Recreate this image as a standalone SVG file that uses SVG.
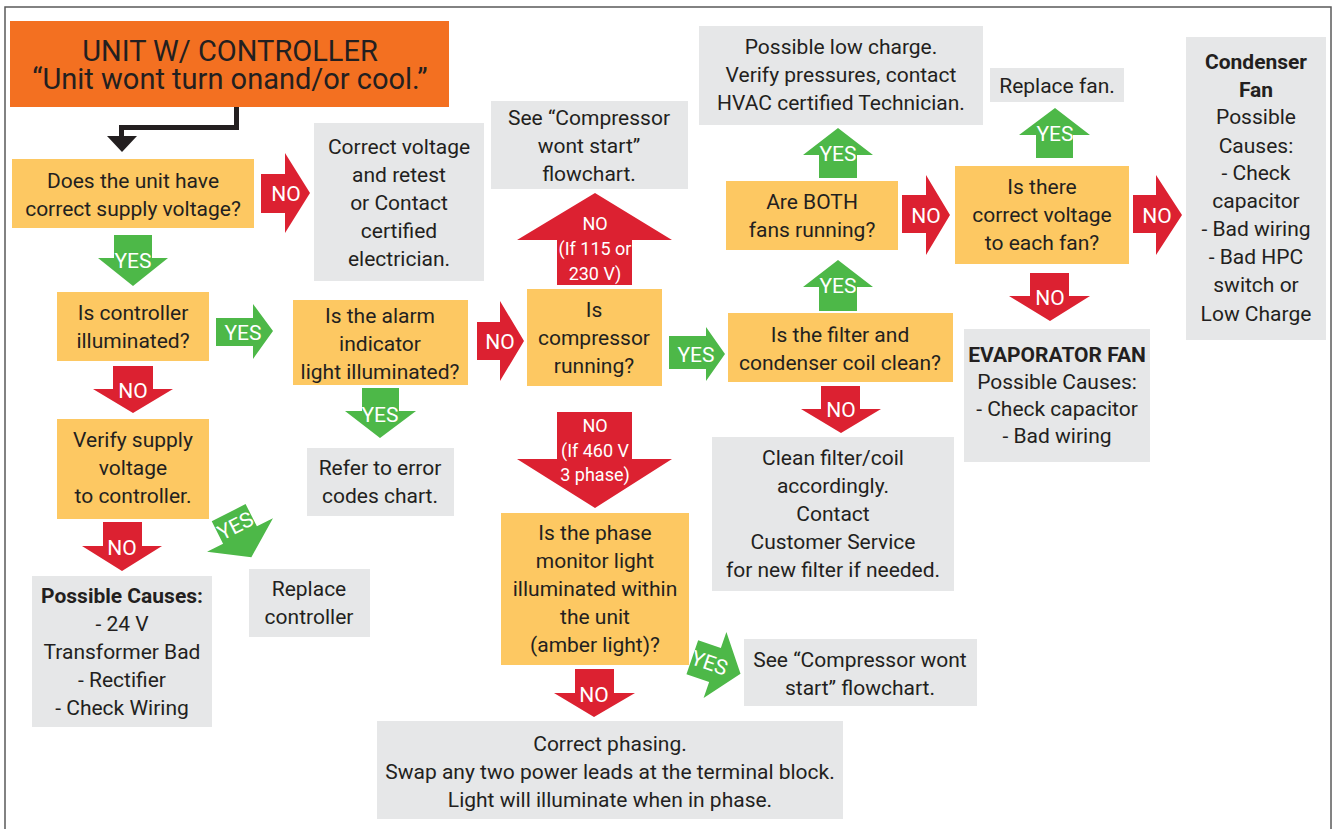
<svg xmlns="http://www.w3.org/2000/svg" width="1332" height="829" viewBox="0 0 1332 829">
<style>
text{font-family:Roboto,"Liberation Sans",sans-serif;text-anchor:middle;}
.t{font-size:21px;fill:#231F20;}
.b{font-weight:bold;}
.title{font-size:29px;fill:#231F20;}
.yb{fill:#FDC862;}
.gb{fill:#E6E7E8;}
.tb{fill:#F37021;}
.r{fill:#DC2131;}
.g{fill:#4DB848;}
.lbl{font-size:21px;fill:#FFFFFF;}
.lbs{font-size:18px;fill:#FFFFFF;}
</style>
<rect x="5" y="7" width="1326" height="840" fill="#FFFFFF" stroke="#5A5A5A" stroke-width="1.5"/>

<g id="title">
<rect class="tb" x="10" y="21" width="439" height="86"/>
<text class="title" x="230" y="61">UNIT W/ CONTROLLER</text>
<text class="title" x="230" y="89">“Unit wont turn onand/or cool.”</text>
</g>

<g id="q-supply">
<rect class="yb" x="12" y="159" width="242" height="69"/>
<text class="t" x="133" y="188">Does the unit have</text>
<text class="t" x="133" y="216">correct supply voltage?</text>
</g>

<g id="correct-voltage">
<rect class="gb" x="314" y="123" width="170" height="158"/>
<text class="t" x="399" y="154">Correct voltage</text>
<text class="t" x="399" y="182">and retest</text>
<text class="t" x="399" y="210">or Contact</text>
<text class="t" x="399" y="238">certified</text>
<text class="t" x="399" y="266">electrician.</text>
</g>

<g id="q-controller">
<rect class="yb" x="57" y="292" width="152" height="69"/>
<text class="t" x="133" y="320">Is controller</text>
<text class="t" x="133" y="348">illuminated?</text>
</g>

<g id="q-alarm">
<rect class="yb" x="293" y="300" width="175" height="85"/>
<text class="t" x="380" y="323">Is the alarm</text>
<text class="t" x="380" y="351">indicator</text>
<text class="t" x="380" y="379">light illuminated?</text>
</g>

<g id="verify-supply">
<rect class="yb" x="57" y="419" width="152" height="100"/>
<text class="t" x="133" y="447">Verify supply</text>
<text class="t" x="133" y="475">voltage</text>
<text class="t" x="133" y="503">to controller.</text>
</g>

<g id="error-codes">
<rect class="gb" x="307" y="448" width="147" height="68"/>
<text class="t" x="380" y="475">Refer to error</text>
<text class="t" x="380" y="503">codes chart.</text>
</g>

<g id="replace-controller">
<rect class="gb" x="249" y="569" width="121" height="68"/>
<text class="t" x="309" y="596">Replace</text>
<text class="t" x="309" y="624">controller</text>
</g>

<g id="possible-causes">
<rect class="gb" x="32" y="576" width="180" height="151"/>
<text class="t b" x="122" y="603">Possible Causes:</text>
<text class="t" x="122" y="631">- 24 V</text>
<text class="t" x="122" y="659">Transformer Bad</text>
<text class="t" x="122" y="687">- Rectifier</text>
<text class="t" x="122" y="715">- Check Wiring</text>
</g>

<g id="see-compressor-1">
<rect class="gb" x="491" y="101" width="197" height="88"/>
<text class="t" x="589" y="125">See “Compressor</text>
<text class="t" x="589" y="153">wont start”</text>
<text class="t" x="589" y="181">flowchart.</text>
</g>

<g id="q-compressor">
<rect class="yb" x="527" y="289" width="135" height="97"/>
<text class="t" x="594" y="317">Is</text>
<text class="t" x="594" y="345">compressor</text>
<text class="t" x="594" y="373">running?</text>
</g>

<g id="q-phase">
<rect class="yb" x="501" y="513" width="188" height="152"/>
<text class="t" x="595" y="540">Is the phase</text>
<text class="t" x="595" y="568">monitor light</text>
<text class="t" x="595" y="596">illuminated within</text>
<text class="t" x="595" y="624">the unit</text>
<text class="t" x="595" y="652">(amber light)?</text>
</g>

<g id="correct-phasing">
<rect class="gb" x="377" y="721" width="466" height="98"/>
<text class="t" x="610" y="751">Correct phasing.</text>
<text class="t" x="610" y="779">Swap any two power leads at the terminal block.</text>
<text class="t" x="610" y="807">Light will illuminate when in phase.</text>
</g>

<g id="see-compressor-2">
<rect class="gb" x="744" y="639" width="233" height="67"/>
<text class="t" x="860" y="667">See “Compressor wont</text>
<text class="t" x="860" y="695">start” flowchart.</text>
</g>

<g id="low-charge">
<rect class="gb" x="699" y="26" width="284" height="99"/>
<text class="t" x="841" y="54">Possible low charge.</text>
<text class="t" x="841" y="82">Verify pressures, contact</text>
<text class="t" x="841" y="110">HVAC certified Technician.</text>
</g>

<g id="q-both-fans">
<rect class="yb" x="726" y="181" width="172" height="69"/>
<text class="t" x="812" y="209">Are BOTH</text>
<text class="t" x="812" y="237">fans running?</text>
</g>

<g id="q-fan-voltage">
<rect class="yb" x="955" y="166" width="174" height="98"/>
<text class="t" x="1042" y="194">Is there</text>
<text class="t" x="1042" y="222">correct voltage</text>
<text class="t" x="1042" y="250">to each fan?</text>
</g>

<g id="replace-fan">
<rect class="gb" x="990" y="68" width="134" height="34"/>
<text class="t" x="1057" y="93">Replace fan.</text>
</g>

<g id="q-filter">
<rect class="yb" x="728" y="313" width="225" height="69"/>
<text class="t" x="840" y="342">Is the filter and</text>
<text class="t" x="840" y="370">condenser coil clean?</text>
</g>

<g id="clean-filter">
<rect class="gb" x="712" y="437" width="242" height="154"/>
<text class="t" x="833" y="465">Clean filter/coil</text>
<text class="t" x="833" y="493">accordingly.</text>
<text class="t" x="833" y="521">Contact</text>
<text class="t" x="833" y="549">Customer Service</text>
<text class="t" x="833" y="577">for new filter if needed.</text>
</g>

<g id="evaporator-fan">
<rect class="gb" x="964" y="329" width="186" height="133"/>
<text class="t b" x="1057" y="362">EVAPORATOR FAN</text>
<text class="t" x="1057" y="389">Possible Causes:</text>
<text class="t" x="1057" y="416">- Check capacitor</text>
<text class="t" x="1057" y="443">- Bad wiring</text>
</g>

<g id="condenser-fan">
<rect class="gb" x="1186" y="37" width="140" height="303"/>
<text class="t b" x="1256" y="69">Condenser</text>
<text class="t b" x="1256" y="97">Fan</text>
<text class="t" x="1256" y="124">Possible</text>
<text class="t" x="1256" y="153">Causes:</text>
<text class="t" x="1256" y="180">- Check</text>
<text class="t" x="1256" y="208">capacitor</text>
<text class="t" x="1256" y="236">- Bad wiring</text>
<text class="t" x="1256" y="264">- Bad HPC</text>
<text class="t" x="1256" y="292">switch or</text>
<text class="t" x="1256" y="321">Low Charge</text>
</g>

<g id="connectors">
<polyline points="236.5,107 236.5,127.5 121.5,127.5 121.5,138" fill="none" stroke="#231F20" stroke-width="5"/>
<polygon points="107,136 137,136 122,152" fill="#231F20"/>

<polygon class="r" points="261,174 285,174 285,153 310,193 285,233 285,213 261,213"/>
<text class="lbl" x="286" y="201">NO</text>
<polygon class="g" points="216,318 253,318 253,304 273,331 253,359 253,346 216,346"/>
<text class="lbl" x="243" y="340">YES</text>
<polygon class="r" points="477,322 500,322 500,301 524,341 500,381 500,360 477,360"/>
<text class="lbl" x="500" y="349">NO</text>
<polygon class="g" points="669,336 706,336 706,327 725,354 706,381 706,369 669,369"/>
<text class="lbl" x="696" y="362">YES</text>
<polygon class="r" points="902,195 926,195 926,175 950,215 926,255 926,233 902,233"/>
<text class="lbl" x="926" y="223">NO</text>
<polygon class="r" points="1133,195 1156,195 1156,175 1182,215 1156,255 1156,233 1133,233"/>
<text class="lbl" x="1157" y="223">NO</text>

<polygon class="g" points="114,235 152,235 152,258 168,258 133,286 98,258 114,258"/>
<text class="lbl" x="133" y="268">YES</text>
<polygon class="r" points="113,366 153,366 153,389 173,389 133,413 93,389 113,389"/>
<text class="lbl" x="133" y="398">NO</text>
<polygon class="g" points="362,388 399,388 399,411 416,411 380,438 345,411 362,411"/>
<text class="lbl" x="380" y="422">YES</text>
<polygon class="r" points="103,522 142,522 142,546 162,546 122,571 82,546 103,546"/>
<text class="lbl" x="122" y="555">NO</text>
<polygon class="r" points="557,412 632,412 632,459 672,459 595,508 517,459 557,459"/>
<text class="lbs" x="595" y="432">NO</text>
<text class="lbs" x="595" y="457">(If 460 V</text>
<text class="lbs" x="595" y="481">3 phase)</text>
<polygon class="r" points="575,669 614,669 614,693 635,693 594,717 554,693 575,693"/>
<text class="lbl" x="594" y="702">NO</text>
<polygon class="r" points="821,386 860,386 860,409 881,409 841,433 801,409 821,409"/>
<text class="lbl" x="841" y="417">NO</text>
<polygon class="r" points="1030,273 1069,273 1069,296 1090,296 1050,321 1009,296 1030,296"/>
<text class="lbl" x="1050" y="305">NO</text>

<polygon class="r" points="557,285 632,285 632,240 672,240 595,193 517,240 557,240"/>
<text class="lbs" x="595" y="230">NO</text>
<text class="lbs" x="595" y="255">(If 115 or</text>
<text class="lbs" x="595" y="280">230 V)</text>
<polygon class="g" points="819,178 857,178 857,155 873,155 838,128 803,155 819,155"/>
<text class="lbl" x="838" y="161">YES</text>
<polygon class="g" points="1036,158 1073,158 1073,135 1090,135 1055,108 1019,135 1036,135"/>
<text class="lbl" x="1055" y="141">YES</text>
<polygon class="g" points="819,311 857,311 857,287 873,287 838,260 803,287 819,287"/>
<text class="lbl" x="838" y="293">YES</text>

<g transform="translate(240,535) rotate(-27)">
<polygon class="g" points="-19,-25 19,-25 19,0 37,0 0,25 -37,0 -19,0"/>
<text class="lbl" x="0" y="-3">YES</text>
</g>
<g transform="translate(715,665) rotate(19)">
<polygon class="g" points="-24,-18 0,-18 0,-35 27,0 0,35 0,18 -24,18"/>
<text class="lbl" x="-6" y="7">YES</text>
</g>
</g>
</svg>
